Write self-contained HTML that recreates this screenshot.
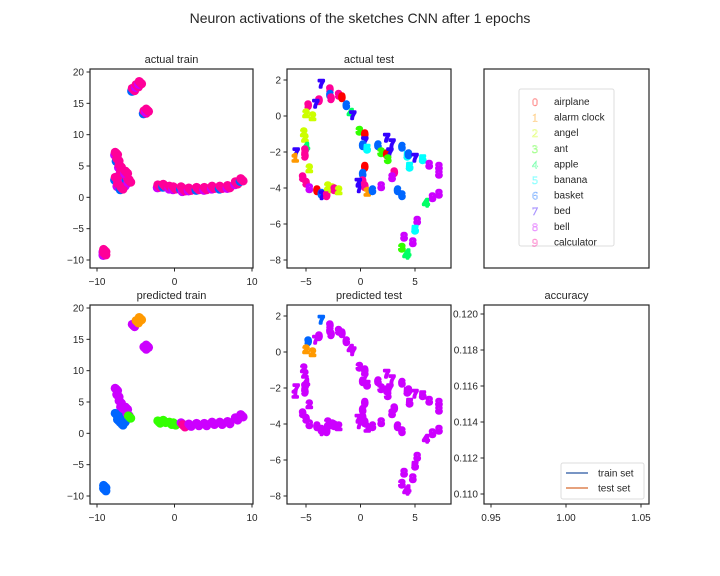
<!DOCTYPE html>
<html><head><meta charset="utf-8"><style>
body{margin:0;background:#fff}
svg{display:block;font-family:"Liberation Sans","DejaVu Sans",sans-serif}
</style></head><body>
<svg id="fig" width="720" height="576" viewBox="0 0 720 576" xmlns="http://www.w3.org/2000/svg">
<rect width="720" height="576" fill="#fff"/>
<text x="360" y="23" text-anchor="middle" font-size="14" fill="#262626">Neuron activations of the sketches CNN after 1 epochs</text>
<g id="plots"></g>
</svg>
<script>
const classNames=["airplane","alarm clock","angel","ant","apple","banana","basket","bed","bell","calculator"];
const classColors=["#ff0000","#ff9900","#ccff00","#33ff00","#00ff66","#00ffff","#0066ff","#3300ff","#cc00ff","#ff0099"];
// train embedding (actual label, predicted label)
const trainX=[-5.3,-4.8,-4.4,-3.8,-3.5,-7.5,-7.3,-7,-6.8,-7.5,-7,-6.5,-6,-6.2,-7.2,-6.8,-5.8,-2,-1.3,-0.5,0,1,1.2,2,3,4,5,6,7,8,8.7,-9,-9];
const trainY=[17.2,17.8,18.3,13.6,13.9,7,6,5,4,3,2.5,2,3,4,2,1.5,2.6,1.8,1.9,1.6,1.5,1.5,1.2,1.3,1.4,1.4,1.6,1.6,1.7,2.3,2.8,-8.5,-9];
const trainActual=[9,9,9,9,9,9,9,9,9,9,9,8,9,9,9,9,9,9,9,9,9,9,9,9,9,9,9,9,9,9,9,9,9];
const trainPred=[8,1,1,8,8,8,8,8,8,6,6,6,8,8,6,6,3,3,3,3,3,8,9,8,8,8,8,8,8,8,8,6,6];
// test embedding
const testX=[-3.6,-2.8,-2.8,-2.7,-2,-1.7,-1.3,-0.9,-0.7,-3.8,-4.8,-4.1,-5,-4.4,-5.2,-5.1,-5,-5.1,-5.9,-6,-5.1,-4.7,-5.3,-5,-4.7,-4,-3.6,-3.5,-3.1,-3,-2.6,-2.4,-2,-0.1,0.4,0.4,0.2,0.6,0.4,0.2,0.2,-0.2,-0.1,0.4,0.6,1.1,1.9,1.6,1.9,2.4,2.9,2.4,2.7,2.5,3.1,2.9,3.8,4.3,4.4,5,4.5,5.7,6.3,7.2,7.2,3.4,3.8,6.6,7.2,6,5.2,5,4,4.8,3.8,4.3,4.2];
const testY=[1.8,1.5,1.2,1,1.2,1.05,0.6,0.2,0.05,0.9,0.6,0.7,0.17,0,-0.9,-1.2,-1.7,-1.9,-2,-2.3,-2.2,-2.9,-3.4,-3.7,-4,-4.1,-4.3,-4.4,-4.4,-3.9,-4,-4.05,-4.1,-0.8,-1,-1.4,-1.6,-1.8,-2.8,-3.2,-3.6,-3.7,-4,-3.9,-4.2,-4.1,-3.9,-1.6,-2,-1.2,-1.5,-2.1,-2,-2.4,-3.1,-3.4,-1.7,-2.2,-2.1,-2.3,-2.8,-2.4,-2.7,-2.8,-3.2,-4.1,-4.4,-4.5,-4.3,-4.8,-5.8,-6.3,-6.7,-7,-7.3,-7.6,-7.7];
const testActual=[7,9,6,9,9,0,6,4,7,9,9,7,2,2,2,2,4,9,7,1,9,2,9,9,8,0,6,7,9,2,2,9,2,3,0,7,6,5,0,6,9,7,7,9,1,6,8,6,3,7,7,0,7,3,9,8,6,5,6,7,5,5,8,8,8,6,6,8,8,4,8,5,8,8,3,4,4];
const testPred=[6,8,8,8,8,8,8,8,8,8,6,8,1,1,8,8,8,8,8,8,8,8,8,8,8,8,8,8,8,8,8,8,8,8,8,8,8,8,8,8,8,8,8,8,8,8,8,8,8,8,8,8,8,8,8,8,8,8,8,8,8,8,8,8,8,8,8,8,8,8,8,8,8,8,8,8,8];
const accTicks=[0.110,0.112,0.114,0.116,0.118,0.120];
const accXTicks=[0.95,1.00,1.05];
const trainXTicks=[-10,0,10], trainYTicks=[-10,-5,0,5,10,15,20];
const testXTicks=[-5,0,5], testYTicks=[-8,-6,-4,-2,0,2];

const NS="http://www.w3.org/2000/svg";
const root=document.getElementById('plots');
function mk(tag,attrs,parent){const e=document.createElementNS(NS,tag);for(const k in attrs)e.setAttribute(k,attrs[k]);(parent||root).appendChild(e);return e;}
function lin(d0,d1,r0,r1){return v=>r0+(v-d0)*(r1-r0)/(d1-d0);}

function panel(name,title,x0,y0,x1,y1){
  const g=mk('g',{});
  
  
  const t=mk('text',{x:(x0+x1)/2,y:y0-6,'text-anchor':'middle','font-size':11,fill:'#262626'},g);
  t.textContent=title;
  
  
  return g;
}
function frame(g,x0,y0,x1,y1){
  const r=mk('rect',{x:x0,y:y0,width:x1-x0,height:y1-y0,fill:'none',stroke:'#262626','stroke-width':1.2},g);
  
  
}
function axes(g,xs,ys,xt,yt,y1,x0,fmtX,fmtY){
  xt.forEach(v=>{const x=xs(v);
    mk('line',{x1:x,x2:x,y1:y1,y2:y1+3.5,stroke:'#262626'},g);
    const t=mk('text',{x:x,y:y1+17,'text-anchor':'middle','font-size':10,fill:'#262626'},g);
    t.textContent=fmtX?fmtX(v):String(v).replace('-','\u2212');
    
    });
  yt.forEach(v=>{const y=ys(v);
    mk('line',{x1:x0-3.5,x2:x0,y1:y,y2:y,stroke:'#262626'},g);
    const t=mk('text',{x:x0-6,y:y+3.5,'text-anchor':'end','font-size':10,fill:'#262626'},g);
    t.textContent=fmtY?fmtY(v):String(v).replace('-','\u2212');
    
    });
}
function trainPanel(name,title,y0,y1,colorArr,under){
  const x0=90,x1=253;
  const g=panel(name,title,x0,y0,x1,y1);
  const xs=lin(-10,10,97,252), ys=lin(-10,20,y1-8,y0+3);
  trainX.forEach((xv,i)=>{
    const c=classColors[colorArr[i]];
    const cx=xs(xv),cy=ys(trainY[i]);
    if(under){
      const u=mk('circle',{cx:cx-1.5,cy:cy+1.5,r:4.8,fill:classColors[(i%3===0)?6:8]},g);
      
      
    }
    [[-1.2,-1.2],[1.2,1.2],[0,0]].forEach(o=>{
      const p=mk('circle',{cx:cx+o[0],cy:cy+o[1],r:4.5,fill:c},g);
      
      
    });
  });
  frame(g,x0,y0,x1,y1);
  axes(g,xs,ys,trainXTicks,trainYTicks,y1,x0);
}
function testPanel(name,title,y0,y1,colorArr){
  const x0=287,x1=451;
  const g=panel(name,title,x0,y0,x1,y1);
  const xs=lin(-5,5,306,415), ys=lin(-8,2,y1-8,y0+11);
  testX.forEach((xv,i)=>{
    const c=classColors[colorArr[i]];
    const t=mk('text',{x:xs(xv),y:ys(testY[i])+4,'text-anchor':'middle','font-size':11,'font-weight':'bold',fill:c,stroke:c,'stroke-width':2.4,'stroke-linejoin':'round'},g);
    t.textContent=String(testActual[i]);
    
    
  });
  frame(g,x0,y0,x1,y1);
  axes(g,xs,ys,testXTicks,testYTicks,y1,x0);
}
trainPanel('actual-train-panel','actual train',69,268,trainActual,true);
testPanel('actual-test-panel','actual test',69,268,testActual);
trainPanel('predicted-train-panel','predicted train',305,504,trainPred,false);
testPanel('predicted-test-panel','predicted test',305,504,testPred);

// legend panel
(function(){
  const g=panel('legend-panel','',484,69,649,268);
  frame(g,484,69,649,268);
  const lg=mk('g',{},g);
  
  
  mk('rect',{x:519,y:89,width:95,height:157,rx:2,fill:'#fff',stroke:'#dddddd'},lg);
  classNames.forEach((n,i)=>{
    const y=101+i*15.6;
    const m=mk('text',{x:535,y:y+5,'text-anchor':'middle','font-size':12,'font-family':'Liberation Serif, serif',fill:'none',stroke:classColors[i],'stroke-width':0.5,'stroke-opacity':0.5},lg);
    m.textContent=String(i);
    
    
    const t=mk('text',{x:554,y:y+4,'font-size':10,fill:'#262626'},lg);
    t.textContent=n;
    
    
  });
})();
// accuracy panel
(function(){
  const x0=484,x1=649,y0=305,y1=504;
  const g=panel('accuracy-panel','accuracy',x0,y0,x1,y1);
  const xs=lin(0.95,1.05,491,641), ys=lin(0.110,0.120,494,314);
  frame(g,x0,y0,x1,y1);
  axes(g,xs,ys,accXTicks,accTicks,y1,x0,v=>v.toFixed(2),v=>v.toFixed(3));
  const lg=mk('g',{},g);
  
  
  mk('rect',{x:561,y:463,width:83,height:36,rx:2,fill:'#fff',stroke:'#dddddd'},lg);
  [['train set','#4c72b0'],['test set','#dd8452']].forEach((s,i)=>{
    const y=473+i*15;
    mk('line',{x1:566,x2:588,y1:y,y2:y,stroke:s[1],'stroke-width':1.5},lg);
    const t=mk('text',{x:598,y:y+3.5,'font-size':10,fill:'#262626'},lg);
    t.textContent=s[0];
    
    
  });
})();
</script>
</body></html>
